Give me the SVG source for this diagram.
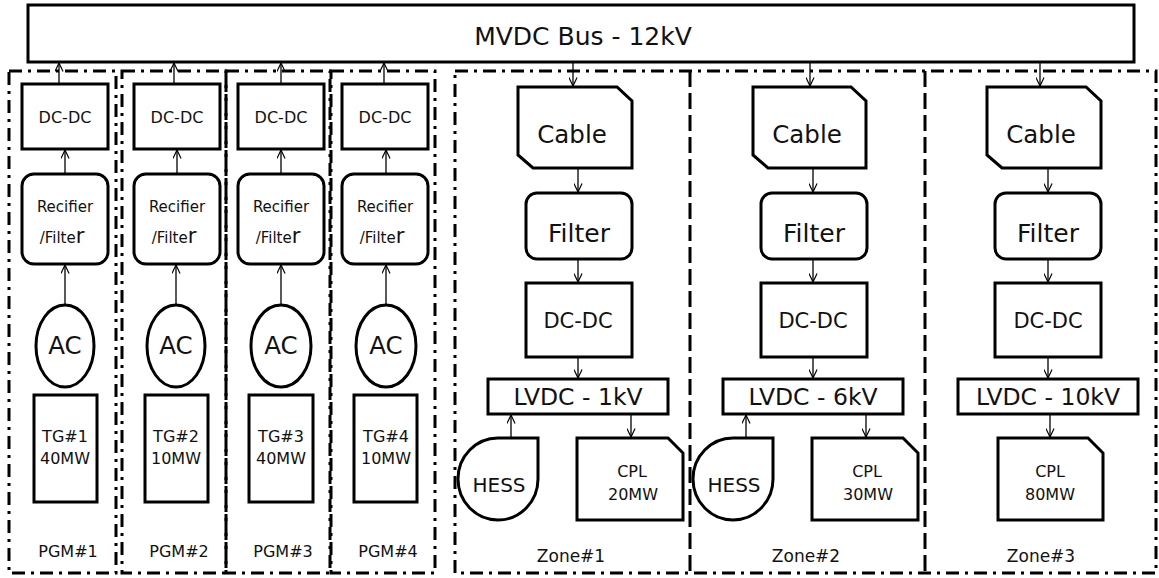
<svg xmlns="http://www.w3.org/2000/svg" width="1159" height="578" viewBox="0 0 1159 578">
<style>
.box{fill:#fff;stroke:#000;stroke-width:3}
.grp{fill:none;stroke:#000;stroke-width:3;stroke-dasharray:13 6 3 6}
.div{fill:none;stroke:#000;stroke-width:3;stroke-dasharray:16 6}
.c{fill:none;stroke:#000;stroke-width:1.3;marker-end:url(#ah)}
text{font-family:"DejaVu Sans","Open Sans","Liberation Sans",sans-serif;fill:#111;text-anchor:middle}
.pg{font-size:16px}.tg{font-size:16px}.rf{font-size:15px}.ac{font-size:24.5px}
.cb{font-size:24.5px}.fl{font-size:25px}.zd{font-size:21px}.lv{font-size:23.5px}
.hs{font-size:20px}.cp{font-size:16px}.zn{font-size:17px}
</style>
<defs>
<marker id="ah" viewBox="0 0 10 10" refX="9.5" refY="5" markerWidth="9" markerHeight="9" markerUnits="userSpaceOnUse" orient="auto">
<path d="M0,0.5 L9.5,5 L0,9.5" fill="none" stroke="#000" stroke-width="1.3"/>
</marker>
</defs>

<g id="bus"><rect class="box" x="28" y="5" width="1106" height="57"/><text x="583" y="45" style="font-size:25px">MVDC Bus - 12kV</text></g>

<g id="pgm1"><rect class="grp" x="9" y="71" width="107" height="502"/><text class="pg" x="68" y="557">PGM#1</text></g>
<g id="pgm2"><rect class="grp" x="122" y="71" width="104" height="502"/><text class="pg" x="179" y="557">PGM#2</text></g>
<g id="pgm3"><rect class="grp" x="226" y="71" width="104" height="502"/><text class="pg" x="283" y="557">PGM#3</text></g>
<g id="pgm4"><rect class="grp" x="331" y="71" width="104" height="502"/><text class="pg" x="388" y="557">PGM#4</text></g>

<g id="zones"><rect class="grp" x="455" y="71" width="701" height="502"/><line class="div" x1="690" y1="71" x2="690" y2="573"/><line class="div" x1="925" y1="71" x2="925" y2="573"/>
<text class="zn" x="571" y="562">Zone#1</text><text class="zn" x="806" y="562">Zone#2</text><text class="zn" x="1041" y="562">Zone#3</text></g>

<g id="connectors">
<line class="c" x1="59" y1="90" x2="59" y2="63"/>
<line class="c" x1="174" y1="84" x2="174" y2="63"/>
<line class="c" x1="281" y1="84" x2="281" y2="63"/>
<line class="c" x1="384" y1="84" x2="384" y2="63"/>
<line class="c" x1="65" y1="174" x2="65" y2="150"/>
<line class="c" x1="177" y1="174" x2="177" y2="150"/>
<line class="c" x1="281" y1="174" x2="281" y2="150"/>
<line class="c" x1="386" y1="174" x2="386" y2="150"/>
<line class="c" x1="65" y1="305" x2="65" y2="265"/>
<line class="c" x1="176" y1="305" x2="176" y2="265"/>
<line class="c" x1="281" y1="305" x2="281" y2="265"/>
<line class="c" x1="386" y1="305" x2="386" y2="265"/>
<line class="c" x1="573" y1="62" x2="573" y2="86"/>
<line class="c" x1="578" y1="168" x2="578" y2="192"/>
<line class="c" x1="578" y1="259" x2="578" y2="282"/>
<line class="c" x1="578" y1="357" x2="578" y2="378"/>
<line class="c" x1="511" y1="438" x2="511" y2="415"/>
<line class="c" x1="631" y1="414" x2="631" y2="437"/>
<line class="c" x1="810" y1="62" x2="810" y2="86"/>
<line class="c" x1="813" y1="168" x2="813" y2="192"/>
<line class="c" x1="813" y1="259" x2="813" y2="282"/>
<line class="c" x1="813" y1="357" x2="813" y2="378"/>
<line class="c" x1="746" y1="438" x2="746" y2="415"/>
<line class="c" x1="866" y1="414" x2="866" y2="437"/>
<line class="c" x1="1040" y1="62" x2="1040" y2="86"/>
<line class="c" x1="1048" y1="168" x2="1048" y2="192"/>
<line class="c" x1="1048" y1="259" x2="1048" y2="282"/>
<line class="c" x1="1048" y1="357" x2="1048" y2="378"/>
<line class="c" x1="1050" y1="414" x2="1050" y2="437"/>
</g>

<g id="pgm1-nodes">
<g id="dcdc1"><rect class="box" x="22" y="84" width="86" height="65"/><text class="pg" x="65" y="123">DC-DC</text></g>
<g id="rect1"><rect class="box" x="22" y="174" width="86" height="90" rx="12"/><text class="rf" x="65" y="212">Recifier</text><text class="rf" x="62" y="243">/Filte<tspan style="font-size:21px">r</tspan></text></g>
<g id="ac1"><ellipse class="box" cx="65" cy="346" rx="29" ry="41"/><text class="ac" x="65" y="354">AC</text></g>
<g id="tg1"><rect class="box" x="34" y="395" width="63" height="107"/><text class="tg" x="65" y="442">TG#1</text><text class="tg" x="65" y="464">40MW</text></g>
</g>
<g id="pgm2-nodes">
<g id="dcdc2"><rect class="box" x="134" y="84" width="86" height="65"/><text class="pg" x="177" y="123">DC-DC</text></g>
<g id="rect2"><rect class="box" x="134" y="174" width="86" height="90" rx="12"/><text class="rf" x="177" y="212">Recifier</text><text class="rf" x="174" y="243">/Filte<tspan style="font-size:21px">r</tspan></text></g>
<g id="ac2"><ellipse class="box" cx="176" cy="346" rx="29" ry="41"/><text class="ac" x="176" y="354">AC</text></g>
<g id="tg2"><rect class="box" x="145" y="395" width="63" height="107"/><text class="tg" x="176" y="442">TG#2</text><text class="tg" x="176" y="464">10MW</text></g>
</g>
<g id="pgm3-nodes">
<g id="dcdc3"><rect class="box" x="238" y="84" width="86" height="65"/><text class="pg" x="281" y="123">DC-DC</text></g>
<g id="rect3"><rect class="box" x="238" y="174" width="86" height="90" rx="12"/><text class="rf" x="281" y="212">Recifier</text><text class="rf" x="278" y="243">/Filte<tspan style="font-size:21px">r</tspan></text></g>
<g id="ac3"><ellipse class="box" cx="281" cy="346" rx="30" ry="41"/><text class="ac" x="281" y="354">AC</text></g>
<g id="tg3"><rect class="box" x="249" y="395" width="64" height="107"/><text class="tg" x="281" y="442">TG#3</text><text class="tg" x="281" y="464">40MW</text></g>
</g>
<g id="pgm4-nodes">
<g id="dcdc4"><rect class="box" x="342" y="84" width="86" height="65"/><text class="pg" x="385" y="123">DC-DC</text></g>
<g id="rect4"><rect class="box" x="342" y="174" width="86" height="90" rx="12"/><text class="rf" x="385" y="212">Recifier</text><text class="rf" x="382" y="243">/Filte<tspan style="font-size:21px">r</tspan></text></g>
<g id="ac4"><ellipse class="box" cx="386" cy="346" rx="30" ry="41"/><text class="ac" x="386" y="354">AC</text></g>
<g id="tg4"><rect class="box" x="354" y="395" width="63" height="107"/><text class="tg" x="386" y="442">TG#4</text><text class="tg" x="386" y="464">10MW</text></g>
</g>

<g id="zone1-nodes">
<g id="cable1"><path class="box" d="M518,87 H617 L632,101 V168 H533 L518,155 Z"/><text class="cb" x="572" y="143">Cable</text></g>
<g id="filter1"><rect class="box" x="526" y="193" width="106" height="66" rx="11"/><text class="fl" x="579" y="242">Filter</text></g>
<g id="zdcdc1"><rect class="box" x="526" y="283" width="106" height="74"/><text class="zd" x="578" y="328">DC-DC</text></g>
<g id="lvdc1"><rect class="box" x="488" y="379" width="180" height="35"/><text class="lv" x="578" y="405">LVDC - 1kV</text></g>
<g id="hess1"><path class="box" d="M498,438 H538 V479 A40,41 0 1 1 498,438 Z"/><text class="hs" x="499" y="492">HESS</text></g>
<g id="cpl1"><path class="box" d="M577,438 H668 L683,453 V520 H577 Z"/><text class="cp" x="632" y="477">CPL</text><text class="cp" x="633" y="500">20MW</text></g>
</g>
<g id="zone2-nodes">
<g id="cable2"><path class="box" d="M753,87 H851 L866,101 V168 H768 L753,155 Z"/><text class="cb" x="807" y="143">Cable</text></g>
<g id="filter2"><rect class="box" x="761" y="193" width="106" height="66" rx="11"/><text class="fl" x="814" y="242">Filter</text></g>
<g id="zdcdc2"><rect class="box" x="761" y="283" width="106" height="74"/><text class="zd" x="813" y="328">DC-DC</text></g>
<g id="lvdc2"><rect class="box" x="723" y="379" width="180" height="35"/><text class="lv" x="813" y="405">LVDC - 6kV</text></g>
<g id="hess2"><path class="box" d="M733,438 H773 V479 A40,41 0 1 1 733,438 Z"/><text class="hs" x="734" y="492">HESS</text></g>
<g id="cpl2"><path class="box" d="M812,438 H903 L918,453 V520 H812 Z"/><text class="cp" x="867" y="477">CPL</text><text class="cp" x="868" y="500">30MW</text></g>
</g>
<g id="zone3-nodes">
<g id="cable3"><path class="box" d="M987,87 H1086 L1101,101 V168 H1002 L987,155 Z"/><text class="cb" x="1041" y="143">Cable</text></g>
<g id="filter3"><rect class="box" x="995" y="193" width="106" height="66" rx="11"/><text class="fl" x="1048" y="242">Filter</text></g>
<g id="zdcdc3"><rect class="box" x="995" y="283" width="106" height="74"/><text class="zd" x="1048" y="328">DC-DC</text></g>
<g id="lvdc3"><rect class="box" x="958" y="379" width="180" height="35"/><text class="lv" x="1048" y="405">LVDC - 10kV</text></g>
<g id="cpl3"><path class="box" d="M998,438 H1088 L1103,453 V520 H998 Z"/><text class="cp" x="1050" y="477">CPL</text><text class="cp" x="1050" y="500">80MW</text></g>
</g>
</svg>
